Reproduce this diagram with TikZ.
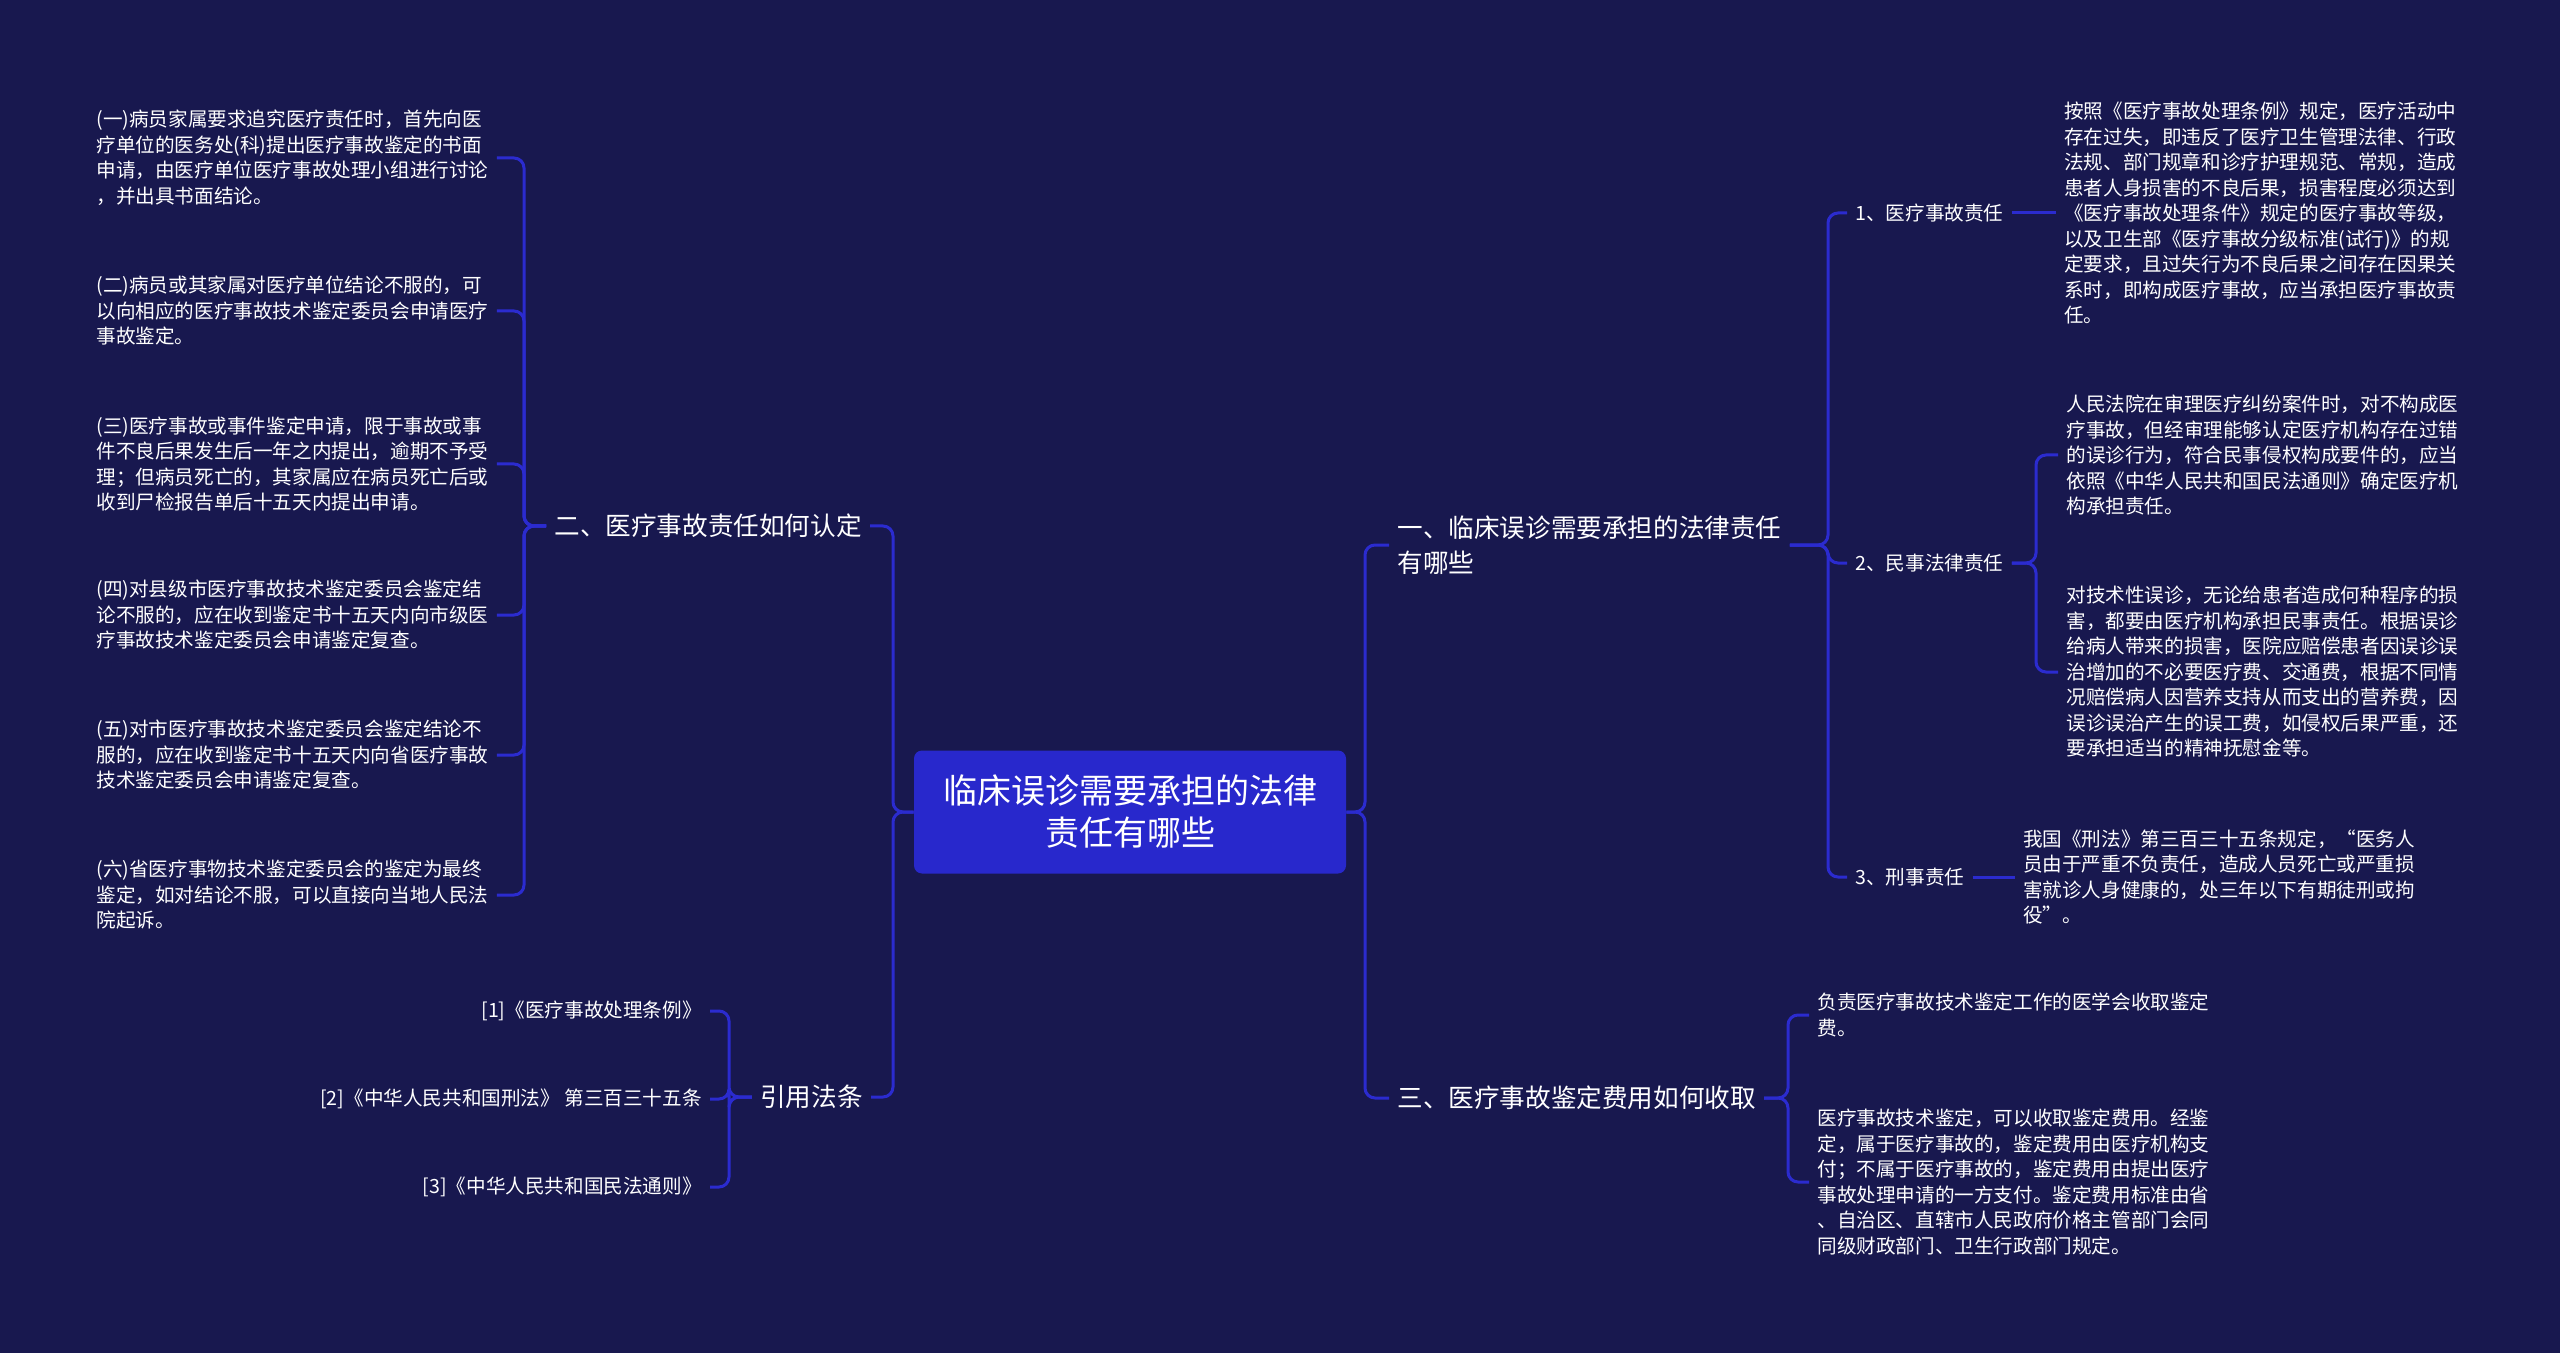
\documentclass[tikz,border=0pt]{standalone}
\usepackage{fontspec}
\setmainfont{Noto Sans CJK SC}
\usetikzlibrary{positioning}
\definecolor{bg}{HTML}{18184F}\definecolor{hubc}{HTML}{2828CC}\definecolor{lnc}{HTML}{2B2BCF}
\tikzset{ln/.style={draw=lnc,line width=1.5pt,rounded corners=5pt},txt/.style={text=white,align=left,inner xsep=4pt,inner ysep=2pt,font=\fontsize{9.8pt}{12.75pt}\selectfont},br/.style={text=white,align=left,inner xsep=4pt,font=\fontsize{12.8pt}{17.5pt}\selectfont},hub/.style={fill=hubc,rounded corners=4pt,text=white,align=center,minimum width=216pt,minimum height=61.5pt,font=\fontsize{17pt}{21pt}\selectfont}}
\begin{document}
\begin{tikzpicture}[x=0.5pt,y=-0.5pt]
\fill[bg](0,0)rectangle(2560,1353);
\node[hub](c)at(1130,812){临床误诊需要承担的法律\\责任有哪些};
\coordinate(jl)at(893,812);\coordinate(jr)at(1365,812);
\coordinate(j2)at(524,526);\coordinate(jy)at(729,1097);
\coordinate(j1)at(1828,545);\coordinate(j4)at(2036,563);\coordinate(j3)at(1788,1098);
% left side
\node[br,anchor=east](e2)at(870,526){二、医疗事故责任如何认定};
\node[br,anchor=east](yy)at(871,1097){引用法条};
\node[txt,anchor=west](a1)at(88,158){(一)病员家属要求追究医疗责任时，首先向医\\疗单位的医务处(科)提出医疗事故鉴定的书面\\申请，由医疗单位医疗事故处理小组进行讨论\\，并出具书面结论。};
\node[txt,anchor=west](a2)at(88,311){(二)病员或其家属对医疗单位结论不服的，可\\以向相应的医疗事故技术鉴定委员会申请医疗\\事故鉴定。};
\node[txt,anchor=west](a3)at(88,464){(三)医疗事故或事件鉴定申请，限于事故或事\\件不良后果发生后一年之内提出，逾期不予受\\理；但病员死亡的，其家属应在病员死亡后或\\收到尸检报告单后十五天内提出申请。};
\node[txt,anchor=west](a4)at(88,615){(四)对县级市医疗事故技术鉴定委员会鉴定结\\论不服的，应在收到鉴定书十五天内向市级医\\疗事故技术鉴定委员会申请鉴定复查。};
\node[txt,anchor=west](a5)at(88,755){(五)对市医疗事故技术鉴定委员会鉴定结论不\\服的，应在收到鉴定书十五天内向省医疗事故\\技术鉴定委员会申请鉴定复查。};
\node[txt,anchor=west](a6)at(88,895){(六)省医疗事物技术鉴定委员会的鉴定为最终\\鉴定，如对结论不服，可以直接向当地人民法\\院起诉。};
\node[txt,anchor=east](r1)at(710,1011){[1]《医疗事故处理条例》};
\node[txt,anchor=east](r2)at(710,1099){[2]《中华人民共和国刑法》 第三百三十五条};
\node[txt,anchor=east](r3)at(710,1187){[3]《中华人民共和国民法通则》};
\draw[ln](c.west)--(jl)|-(e2.east);\draw[ln](c.west)--(jl)|-(yy.east);
\draw[ln](e2.west)--(j2)|-(a1.east);\draw[ln](e2.west)--(j2)|-(a2.east);\draw[ln](e2.west)--(j2)|-(a3.east);
\draw[ln](e2.west)--(j2)|-(a4.east);\draw[ln](e2.west)--(j2)|-(a5.east);\draw[ln](e2.west)--(j2)|-(a6.east);
\draw[ln](yy.west)--(jy)|-(r1.east);\draw[ln](yy.west)--(jy)|-(r2.east);\draw[ln](yy.west)--(jy)|-(r3.east);
% right side
\node[br,anchor=west](e1)at(1389,545){一、临床误诊需要承担的法律责任\\有哪些};
\node[br,anchor=west](e3)at(1389,1098){三、医疗事故鉴定费用如何收取};
\node[txt,anchor=west](k1)at(1847,213){1、医疗事故责任};
\node[txt,anchor=west](k2)at(1847,563){2、民事法律责任};
\node[txt,anchor=west](k3)at(1847,877){3、刑事责任};
\node[txt,right=22pt of k1](t1){按照《医疗事故处理条例》规定，医疗活动中\\存在过失，即违反了医疗卫生管理法律、行政\\法规、部门规章和诊疗护理规范、常规，造成\\患者人身损害的不良后果，损害程度必须达到\\《医疗事故处理条件》规定的医疗事故等级，\\以及卫生部《医疗事故分级标准(试行)》的规\\定要求，且过失行为不良后果之间存在因果关\\系时，即构成医疗事故，应当承担医疗事故责\\任。};
\node[txt,anchor=west](t2)at(2058,455){人民法院在审理医疗纠纷案件时，对不构成医\\疗事故，但经审理能够认定医疗机构存在过错\\的误诊行为，符合民事侵权构成要件的，应当\\依照《中华人民共和国民法通则》确定医疗机\\构承担责任。};
\node[txt,anchor=west](t4)at(2058,672){对技术性误诊，无论给患者造成何种程序的损\\害，都要由医疗机构承担民事责任。根据误诊\\给病人带来的损害，医院应赔偿患者因误诊误\\治增加的不必要医疗费、交通费，根据不同情\\况赔偿病人因营养支持从而支出的营养费，因\\误诊误治产生的误工费，如侵权后果严重，还\\要承担适当的精神抚慰金等。};
\node[txt,right=21pt of k3](t3){我国《刑法》第三百三十五条规定，“医务人\\员由于严重不负责任，造成人员死亡或严重损\\害就诊人身健康的，处三年以下有期徒刑或拘\\役”。};
\node[txt,anchor=west](f1)at(1809,1015){负责医疗事故技术鉴定工作的医学会收取鉴定\\费。};
\node[txt,anchor=west](f2)at(1809,1182){医疗事故技术鉴定，可以收取鉴定费用。经鉴\\定，属于医疗事故的，鉴定费用由医疗机构支\\付；不属于医疗事故的，鉴定费用由提出医疗\\事故处理申请的一方支付。鉴定费用标准由省\\、自治区、直辖市人民政府价格主管部门会同\\同级财政部门、卫生行政部门规定。};
\draw[ln](c.east)--(jr)|-(e1.west);\draw[ln](c.east)--(jr)|-(e3.west);
\draw[ln](e1.east)--(j1)|-(k1.west);\draw[ln](e1.east)--(j1)|-(k2.west);\draw[ln](e1.east)--(j1)|-(k3.west);
\draw[ln](k1)--(t1);\draw[ln](k3)--(t3);
\draw[ln](k2.east)--(j4)|-(t2.west);\draw[ln](k2.east)--(j4)|-(t4.west);
\draw[ln](e3.east)--(j3)|-(f1.west);\draw[ln](e3.east)--(j3)|-(f2.west);
\end{tikzpicture}
\end{document}
